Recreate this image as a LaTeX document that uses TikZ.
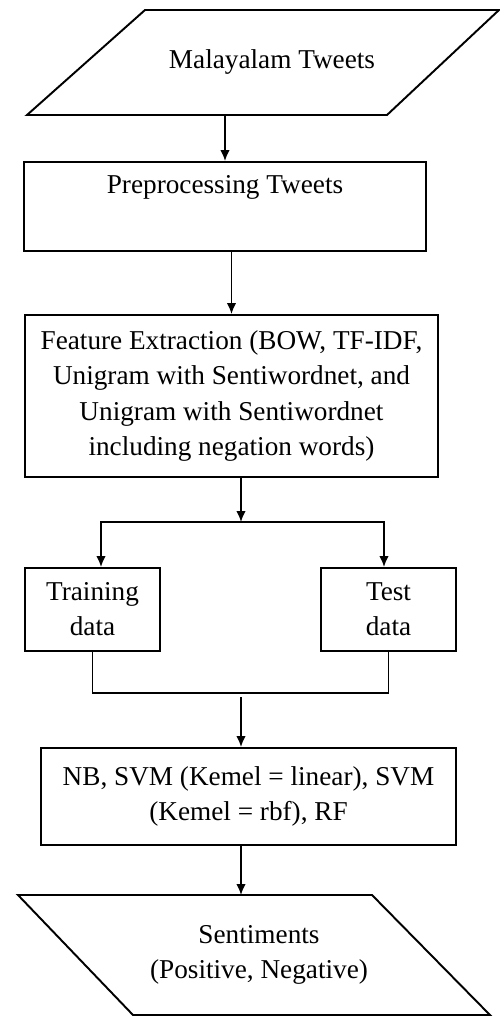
\documentclass[tikz,border=0pt]{standalone}
\usepackage{fontspec}
\setmainfont{Liberation Serif}
\usetikzlibrary{arrows.meta}
\begin{document}
\begin{tikzpicture}[x=0.02cm,y=-0.02cm,
  box/.style={draw,line width=1.1pt,rectangle,align=center,font=\fontsize{15.5}{20}\selectfont,inner sep=0pt},
  txt/.style={align=center,font=\fontsize{15.5}{20}\selectfont,inner sep=0pt},
  arr/.style={-{Latex[length=0.22cm,width=0.19cm]},line width=0.9pt}]
\useasboundingbox (0,0) rectangle (500,1019);

\draw[line width=1.1pt] (145,10) -- (499,10) -- (387,115) -- (27,115) -- cycle;
\node[txt] (tweets) at (272,62) {Malayalam Tweets};
\coordinate (inbot) at (225,115);

\node[box,minimum width=8.04cm,minimum height=1.78cm,text height=0.4cm,text depth=0.94cm] (prep) at (225,206.5) {Preprocessing Tweets};
\node[box,minimum width=8.26cm,minimum height=3.24cm] (feat) at (231.5,396) {Feature Extraction (BOW, TF-IDF,\\ Unigram with Sentiwordnet, and\\ Unigram with Sentiwordnet\\ including negation words)};
\node[box,minimum width=2.7cm,minimum height=1.66cm] (train) at (92.5,609.5) {Training\\ data};
\node[box,minimum width=2.7cm,minimum height=1.66cm] (test) at (388.5,609.5) {Test\\ data};
\node[box,minimum width=8.3cm,minimum height=1.94cm] (nb) at (248.5,796.5) {NB, SVM (Kemel = linear), SVM\\ (Kemel = rbf), RF};

\draw[line width=1.1pt] (18,895) -- (372,895) -- (490,1015) -- (133,1015) -- cycle;
\node[txt] (sent) at (259,955) {Sentiments\\ (Positive, Negative)};
\coordinate (outtop) at (241,895);

\coordinate (split) at (241,522);
\coordinate (join) at (241,693);

\draw[arr] (inbot) -- (prep.north);
\draw[arr] (prep.south -| feat.north) -- (feat.north);
\draw[arr] (feat.south -| split) -- (split);
\draw[arr] (split) -| ([xshift=0.17cm]train.north);
\draw[arr] (split) -| ([xshift=-0.09cm]test.north);
\draw[line width=1.1pt] (train.south) |- (join) -| (test.south);
\draw[arr] ([yshift=-0.08cm]join) -- (join |- nb.north);
\draw[arr] (nb.south -| join) -- (outtop);

\end{tikzpicture}
\end{document}
